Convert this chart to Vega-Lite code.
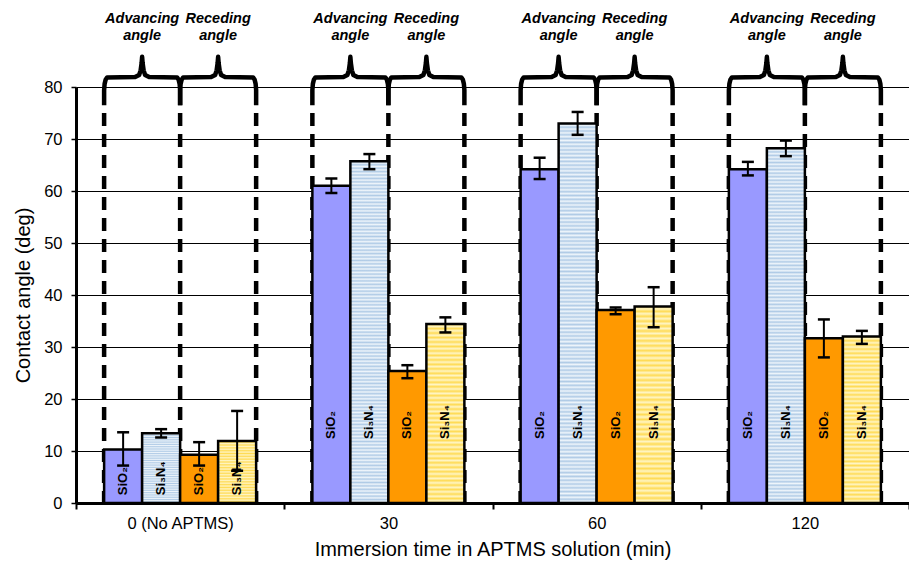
{
  "$schema": "https://vega.github.io/schema/vega-lite/v6.json",
  "width": 833,
  "height": 416,
  "autosize": {"type": "none"},
  "padding": {"left": 76, "top": 87, "right": 0, "bottom": 66},
  "config": {"font": "Liberation Sans", "view": {"stroke": null}},
  "datasets": {
    "bars": [
      {"group": "0 (No APTMS)", "series": "SiO2 adv", "label": "SiO₂", "value": 10.3, "lo": 7.2, "hi": 13.6},
      {"group": "0 (No APTMS)", "series": "Si3N4 adv", "label": "Si₃N₄", "value": 13.4, "lo": 12.6, "hi": 14.2},
      {"group": "0 (No APTMS)", "series": "SiO2 rec", "label": "SiO₂", "value": 9.3, "lo": 7.2, "hi": 11.7},
      {"group": "0 (No APTMS)", "series": "Si3N4 rec", "label": "Si₃N₄", "value": 11.9, "lo": 6.2, "hi": 17.7},
      {"group": "30", "series": "SiO2 adv", "label": "SiO₂", "value": 61.0, "lo": 59.6, "hi": 62.4},
      {"group": "30", "series": "Si3N4 adv", "label": "Si₃N₄", "value": 65.7, "lo": 64.2, "hi": 67.1},
      {"group": "30", "series": "SiO2 rec", "label": "SiO₂", "value": 25.4, "lo": 24.0, "hi": 26.5},
      {"group": "30", "series": "Si3N4 rec", "label": "Si₃N₄", "value": 34.4, "lo": 32.8, "hi": 35.7},
      {"group": "60", "series": "SiO2 adv", "label": "SiO₂", "value": 64.2, "lo": 62.3, "hi": 66.4},
      {"group": "60", "series": "Si3N4 adv", "label": "Si₃N₄", "value": 73.0, "lo": 70.8, "hi": 75.2},
      {"group": "60", "series": "SiO2 rec", "label": "SiO₂", "value": 37.1, "lo": 36.3, "hi": 37.6},
      {"group": "60", "series": "Si3N4 rec", "label": "Si₃N₄", "value": 37.8, "lo": 33.8, "hi": 41.5},
      {"group": "120", "series": "SiO2 adv", "label": "SiO₂", "value": 64.2, "lo": 63.0, "hi": 65.6},
      {"group": "120", "series": "Si3N4 adv", "label": "Si₃N₄", "value": 68.2, "lo": 66.7, "hi": 69.7},
      {"group": "120", "series": "SiO2 rec", "label": "SiO₂", "value": 31.7, "lo": 28.0, "hi": 35.3},
      {"group": "120", "series": "Si3N4 rec", "label": "Si₃N₄", "value": 32.0, "lo": 30.6, "hi": 33.1}
    ],
    "dashes": [
      {"x": 0.135}, {"x": 0.5}, {"x": 0.865},
      {"x": 1.135}, {"x": 1.5}, {"x": 1.865},
      {"x": 2.135}, {"x": 2.5}, {"x": 2.865},
      {"x": 3.135}, {"x": 3.5}, {"x": 3.865}
    ],
    "heads": [
      {"x": 0.3175, "t": "Advancing\nangle"}, {"x": 0.6825, "t": "Receding\nangle"},
      {"x": 1.3175, "t": "Advancing\nangle"}, {"x": 1.6825, "t": "Receding\nangle"},
      {"x": 2.3175, "t": "Advancing\nangle"}, {"x": 2.6825, "t": "Receding\nangle"},
      {"x": 3.3175, "t": "Advancing\nangle"}, {"x": 3.6825, "t": "Receding\nangle"}
    ],
    "braces": [
      {"b":0,"i":0,"x":0.135,"y":76.5},{"b":0,"i":1,"x":0.135,"y":79.4},{"b":0,"i":2,"x":0.1374,"y":80.6},{"b":0,"i":3,"x":0.1422,"y":81.4},{"b":0,"i":4,"x":0.1494,"y":81.85},{"b":0,"i":5,"x":0.2839,"y":81.9},{"b":0,"i":6,"x":0.3031,"y":82.3},{"b":0,"i":7,"x":0.3103,"y":83.2},{"b":0,"i":8,"x":0.3151,"y":84.6},{"b":0,"i":9,"x":0.3175,"y":85.8},{"b":0,"i":10,"x":0.3199,"y":84.6},{"b":0,"i":11,"x":0.3247,"y":83.2},{"b":0,"i":12,"x":0.3319,"y":82.3},{"b":0,"i":13,"x":0.3511,"y":81.9},{"b":0,"i":14,"x":0.4856,"y":81.85},{"b":0,"i":15,"x":0.4928,"y":81.4},{"b":0,"i":16,"x":0.4976,"y":80.6},{"b":0,"i":17,"x":0.5,"y":79.4},{"b":0,"i":18,"x":0.5,"y":76.5},
      {"b":1,"i":0,"x":0.5,"y":76.5},{"b":1,"i":1,"x":0.5,"y":79.4},{"b":1,"i":2,"x":0.5024,"y":80.6},{"b":1,"i":3,"x":0.5072,"y":81.4},{"b":1,"i":4,"x":0.5144,"y":81.85},{"b":1,"i":5,"x":0.6489,"y":81.9},{"b":1,"i":6,"x":0.6681,"y":82.3},{"b":1,"i":7,"x":0.6753,"y":83.2},{"b":1,"i":8,"x":0.6801,"y":84.6},{"b":1,"i":9,"x":0.6825,"y":85.8},{"b":1,"i":10,"x":0.6849,"y":84.6},{"b":1,"i":11,"x":0.6897,"y":83.2},{"b":1,"i":12,"x":0.6969,"y":82.3},{"b":1,"i":13,"x":0.7161,"y":81.9},{"b":1,"i":14,"x":0.8506,"y":81.85},{"b":1,"i":15,"x":0.8578,"y":81.4},{"b":1,"i":16,"x":0.8626,"y":80.6},{"b":1,"i":17,"x":0.865,"y":79.4},{"b":1,"i":18,"x":0.865,"y":76.5},
      {"b":2,"i":0,"x":1.135,"y":76.5},{"b":2,"i":1,"x":1.135,"y":79.4},{"b":2,"i":2,"x":1.1374,"y":80.6},{"b":2,"i":3,"x":1.1422,"y":81.4},{"b":2,"i":4,"x":1.1494,"y":81.85},{"b":2,"i":5,"x":1.2839,"y":81.9},{"b":2,"i":6,"x":1.3031,"y":82.3},{"b":2,"i":7,"x":1.3103,"y":83.2},{"b":2,"i":8,"x":1.3151,"y":84.6},{"b":2,"i":9,"x":1.3175,"y":85.8},{"b":2,"i":10,"x":1.3199,"y":84.6},{"b":2,"i":11,"x":1.3247,"y":83.2},{"b":2,"i":12,"x":1.3319,"y":82.3},{"b":2,"i":13,"x":1.3511,"y":81.9},{"b":2,"i":14,"x":1.4856,"y":81.85},{"b":2,"i":15,"x":1.4928,"y":81.4},{"b":2,"i":16,"x":1.4976,"y":80.6},{"b":2,"i":17,"x":1.5,"y":79.4},{"b":2,"i":18,"x":1.5,"y":76.5},
      {"b":3,"i":0,"x":1.5,"y":76.5},{"b":3,"i":1,"x":1.5,"y":79.4},{"b":3,"i":2,"x":1.5024,"y":80.6},{"b":3,"i":3,"x":1.5072,"y":81.4},{"b":3,"i":4,"x":1.5144,"y":81.85},{"b":3,"i":5,"x":1.6489,"y":81.9},{"b":3,"i":6,"x":1.6681,"y":82.3},{"b":3,"i":7,"x":1.6753,"y":83.2},{"b":3,"i":8,"x":1.6801,"y":84.6},{"b":3,"i":9,"x":1.6825,"y":85.8},{"b":3,"i":10,"x":1.6849,"y":84.6},{"b":3,"i":11,"x":1.6897,"y":83.2},{"b":3,"i":12,"x":1.6969,"y":82.3},{"b":3,"i":13,"x":1.7161,"y":81.9},{"b":3,"i":14,"x":1.8506,"y":81.85},{"b":3,"i":15,"x":1.8578,"y":81.4},{"b":3,"i":16,"x":1.8626,"y":80.6},{"b":3,"i":17,"x":1.865,"y":79.4},{"b":3,"i":18,"x":1.865,"y":76.5},
      {"b":4,"i":0,"x":2.135,"y":76.5},{"b":4,"i":1,"x":2.135,"y":79.4},{"b":4,"i":2,"x":2.1374,"y":80.6},{"b":4,"i":3,"x":2.1422,"y":81.4},{"b":4,"i":4,"x":2.1494,"y":81.85},{"b":4,"i":5,"x":2.2839,"y":81.9},{"b":4,"i":6,"x":2.3031,"y":82.3},{"b":4,"i":7,"x":2.3103,"y":83.2},{"b":4,"i":8,"x":2.3151,"y":84.6},{"b":4,"i":9,"x":2.3175,"y":85.8},{"b":4,"i":10,"x":2.3199,"y":84.6},{"b":4,"i":11,"x":2.3247,"y":83.2},{"b":4,"i":12,"x":2.3319,"y":82.3},{"b":4,"i":13,"x":2.3511,"y":81.9},{"b":4,"i":14,"x":2.4856,"y":81.85},{"b":4,"i":15,"x":2.4928,"y":81.4},{"b":4,"i":16,"x":2.4976,"y":80.6},{"b":4,"i":17,"x":2.5,"y":79.4},{"b":4,"i":18,"x":2.5,"y":76.5},
      {"b":5,"i":0,"x":2.5,"y":76.5},{"b":5,"i":1,"x":2.5,"y":79.4},{"b":5,"i":2,"x":2.5024,"y":80.6},{"b":5,"i":3,"x":2.5072,"y":81.4},{"b":5,"i":4,"x":2.5144,"y":81.85},{"b":5,"i":5,"x":2.6489,"y":81.9},{"b":5,"i":6,"x":2.6681,"y":82.3},{"b":5,"i":7,"x":2.6753,"y":83.2},{"b":5,"i":8,"x":2.6801,"y":84.6},{"b":5,"i":9,"x":2.6825,"y":85.8},{"b":5,"i":10,"x":2.6849,"y":84.6},{"b":5,"i":11,"x":2.6897,"y":83.2},{"b":5,"i":12,"x":2.6969,"y":82.3},{"b":5,"i":13,"x":2.7161,"y":81.9},{"b":5,"i":14,"x":2.8506,"y":81.85},{"b":5,"i":15,"x":2.8578,"y":81.4},{"b":5,"i":16,"x":2.8626,"y":80.6},{"b":5,"i":17,"x":2.865,"y":79.4},{"b":5,"i":18,"x":2.865,"y":76.5},
      {"b":6,"i":0,"x":3.135,"y":76.5},{"b":6,"i":1,"x":3.135,"y":79.4},{"b":6,"i":2,"x":3.1374,"y":80.6},{"b":6,"i":3,"x":3.1422,"y":81.4},{"b":6,"i":4,"x":3.1494,"y":81.85},{"b":6,"i":5,"x":3.2839,"y":81.9},{"b":6,"i":6,"x":3.3031,"y":82.3},{"b":6,"i":7,"x":3.3103,"y":83.2},{"b":6,"i":8,"x":3.3151,"y":84.6},{"b":6,"i":9,"x":3.3175,"y":85.8},{"b":6,"i":10,"x":3.3199,"y":84.6},{"b":6,"i":11,"x":3.3247,"y":83.2},{"b":6,"i":12,"x":3.3319,"y":82.3},{"b":6,"i":13,"x":3.3511,"y":81.9},{"b":6,"i":14,"x":3.4856,"y":81.85},{"b":6,"i":15,"x":3.4928,"y":81.4},{"b":6,"i":16,"x":3.4976,"y":80.6},{"b":6,"i":17,"x":3.5,"y":79.4},{"b":6,"i":18,"x":3.5,"y":76.5},
      {"b":7,"i":0,"x":3.5,"y":76.5},{"b":7,"i":1,"x":3.5,"y":79.4},{"b":7,"i":2,"x":3.5024,"y":80.6},{"b":7,"i":3,"x":3.5072,"y":81.4},{"b":7,"i":4,"x":3.5144,"y":81.85},{"b":7,"i":5,"x":3.6489,"y":81.9},{"b":7,"i":6,"x":3.6681,"y":82.3},{"b":7,"i":7,"x":3.6753,"y":83.2},{"b":7,"i":8,"x":3.6801,"y":84.6},{"b":7,"i":9,"x":3.6825,"y":85.8},{"b":7,"i":10,"x":3.6849,"y":84.6},{"b":7,"i":11,"x":3.6897,"y":83.2},{"b":7,"i":12,"x":3.6969,"y":82.3},{"b":7,"i":13,"x":3.7161,"y":81.9},{"b":7,"i":14,"x":3.8506,"y":81.85},{"b":7,"i":15,"x":3.8578,"y":81.4},{"b":7,"i":16,"x":3.8626,"y":80.6},{"b":7,"i":17,"x":3.865,"y":79.4},{"b":7,"i":18,"x":3.865,"y":76.5}
    ]
  },
  "resolve": {"scale": {"x": "independent"}},
  "layer": [
    {
      "data": {"name": "dashes"},
      "mark": {"type": "rule", "strokeDash": [13, 8], "strokeWidth": 4.5, "color": "black"},
      "encoding": {
        "x": {"field": "x", "type": "quantitative", "scale": {"domain": [0, 4], "nice": false, "zero": false}, "axis": null},
        "y": {"datum": 75, "type": "quantitative", "scale": {"domain": [0, 80], "nice": false}},
        "y2": {"datum": 0}
      }
    },
    {
      "data": {"name": "bars"},
      "encoding": {
        "x": {
          "field": "group", "type": "nominal",
          "scale": {"domain": ["0 (No APTMS)", "30", "60", "120"], "paddingInner": 0, "paddingOuter": 0},
          "axis": {
            "title": "Immersion time in APTMS solution (min)", "labelAngle": 0, "tickBand": "extent",
            "domainColor": "black", "domainWidth": 3, "tickColor": "black", "tickWidth": 2, "tickSize": 6,
            "labelFontSize": 16.5, "labelColor": "black", "labelPadding": 6,
            "titleFontSize": 20, "titleFontWeight": "normal", "titleColor": "black", "titlePadding": 8, "grid": false
          }
        },
        "xOffset": {
          "field": "series", "type": "nominal",
          "scale": {"domain": ["SiO2 adv", "Si3N4 adv", "SiO2 rec", "Si3N4 rec"], "paddingInner": 0, "paddingOuter": 0.74}
        }
      },
      "layer": [
        {
          "mark": {"type": "bar", "stroke": "black", "strokeWidth": 2.5},
          "encoding": {
            "y": {
              "field": "value", "type": "quantitative", "scale": {"domain": [0, 80], "nice": false},
              "axis": {
                "values": [0, 10, 20, 30, 40, 50, 60, 70, 80], "title": "Contact angle (deg)",
                "grid": true, "gridColor": "black", "gridWidth": 1, "gridOpacity": 1,
                "domainColor": "black", "domainWidth": 3, "tickColor": "black", "tickWidth": 1.5, "tickSize": 5,
                "labelFontSize": 16.5, "labelColor": "black", "labelPadding": 9,
                "titleFontSize": 20, "titleFontWeight": "normal", "titleColor": "black", "titlePadding": 10
              }
            },
            "fill": {
              "condition": [
                {"test": "datum.series === 'SiO2 adv'", "value": "#9999ff"},
                {"test": "datum.series === 'SiO2 rec'", "value": "#ff9900"},
                {"test": "datum.series === 'Si3N4 adv'", "value": {"gradient": "linear", "x1": 0, "y1": 0, "x2": 0, "y2": 1, "stops": [
{"offset":0,"color":"#b0cbe6"},{"offset":0.005,"color":"#eef5fb"},{"offset":0.01,"color":"#b0cbe6"},{"offset":0.015,"color":"#eef5fb"},{"offset":0.02,"color":"#b0cbe6"},{"offset":0.025,"color":"#eef5fb"},{"offset":0.03,"color":"#b0cbe6"},{"offset":0.035,"color":"#eef5fb"},{"offset":0.04,"color":"#b0cbe6"},{"offset":0.045,"color":"#eef5fb"},
{"offset":0.05,"color":"#b0cbe6"},{"offset":0.055,"color":"#eef5fb"},{"offset":0.06,"color":"#b0cbe6"},{"offset":0.065,"color":"#eef5fb"},{"offset":0.07,"color":"#b0cbe6"},{"offset":0.075,"color":"#eef5fb"},{"offset":0.08,"color":"#b0cbe6"},{"offset":0.085,"color":"#eef5fb"},{"offset":0.09,"color":"#b0cbe6"},{"offset":0.095,"color":"#eef5fb"},
{"offset":0.1,"color":"#b0cbe6"},{"offset":0.105,"color":"#eef5fb"},{"offset":0.11,"color":"#b0cbe6"},{"offset":0.115,"color":"#eef5fb"},{"offset":0.12,"color":"#b0cbe6"},{"offset":0.125,"color":"#eef5fb"},{"offset":0.13,"color":"#b0cbe6"},{"offset":0.135,"color":"#eef5fb"},{"offset":0.14,"color":"#b0cbe6"},{"offset":0.145,"color":"#eef5fb"},
{"offset":0.15,"color":"#b0cbe6"},{"offset":0.155,"color":"#eef5fb"},{"offset":0.16,"color":"#b0cbe6"},{"offset":0.165,"color":"#eef5fb"},{"offset":0.17,"color":"#b0cbe6"},{"offset":0.175,"color":"#eef5fb"},{"offset":0.18,"color":"#b0cbe6"},{"offset":0.185,"color":"#eef5fb"},{"offset":0.19,"color":"#b0cbe6"},{"offset":0.195,"color":"#eef5fb"},
{"offset":0.2,"color":"#b0cbe6"},{"offset":0.205,"color":"#eef5fb"},{"offset":0.21,"color":"#b0cbe6"},{"offset":0.215,"color":"#eef5fb"},{"offset":0.22,"color":"#b0cbe6"},{"offset":0.225,"color":"#eef5fb"},{"offset":0.23,"color":"#b0cbe6"},{"offset":0.235,"color":"#eef5fb"},{"offset":0.24,"color":"#b0cbe6"},{"offset":0.245,"color":"#eef5fb"},
{"offset":0.25,"color":"#b0cbe6"},{"offset":0.255,"color":"#eef5fb"},{"offset":0.26,"color":"#b0cbe6"},{"offset":0.265,"color":"#eef5fb"},{"offset":0.27,"color":"#b0cbe6"},{"offset":0.275,"color":"#eef5fb"},{"offset":0.28,"color":"#b0cbe6"},{"offset":0.285,"color":"#eef5fb"},{"offset":0.29,"color":"#b0cbe6"},{"offset":0.295,"color":"#eef5fb"},
{"offset":0.3,"color":"#b0cbe6"},{"offset":0.305,"color":"#eef5fb"},{"offset":0.31,"color":"#b0cbe6"},{"offset":0.315,"color":"#eef5fb"},{"offset":0.32,"color":"#b0cbe6"},{"offset":0.325,"color":"#eef5fb"},{"offset":0.33,"color":"#b0cbe6"},{"offset":0.335,"color":"#eef5fb"},{"offset":0.34,"color":"#b0cbe6"},{"offset":0.345,"color":"#eef5fb"},
{"offset":0.35,"color":"#b0cbe6"},{"offset":0.355,"color":"#eef5fb"},{"offset":0.36,"color":"#b0cbe6"},{"offset":0.365,"color":"#eef5fb"},{"offset":0.37,"color":"#b0cbe6"},{"offset":0.375,"color":"#eef5fb"},{"offset":0.38,"color":"#b0cbe6"},{"offset":0.385,"color":"#eef5fb"},{"offset":0.39,"color":"#b0cbe6"},{"offset":0.395,"color":"#eef5fb"},
{"offset":0.4,"color":"#b0cbe6"},{"offset":0.405,"color":"#eef5fb"},{"offset":0.41,"color":"#b0cbe6"},{"offset":0.415,"color":"#eef5fb"},{"offset":0.42,"color":"#b0cbe6"},{"offset":0.425,"color":"#eef5fb"},{"offset":0.43,"color":"#b0cbe6"},{"offset":0.435,"color":"#eef5fb"},{"offset":0.44,"color":"#b0cbe6"},{"offset":0.445,"color":"#eef5fb"},
{"offset":0.45,"color":"#b0cbe6"},{"offset":0.455,"color":"#eef5fb"},{"offset":0.46,"color":"#b0cbe6"},{"offset":0.465,"color":"#eef5fb"},{"offset":0.47,"color":"#b0cbe6"},{"offset":0.475,"color":"#eef5fb"},{"offset":0.48,"color":"#b0cbe6"},{"offset":0.485,"color":"#eef5fb"},{"offset":0.49,"color":"#b0cbe6"},{"offset":0.495,"color":"#eef5fb"},
{"offset":0.5,"color":"#b0cbe6"},{"offset":0.505,"color":"#eef5fb"},{"offset":0.51,"color":"#b0cbe6"},{"offset":0.515,"color":"#eef5fb"},{"offset":0.52,"color":"#b0cbe6"},{"offset":0.525,"color":"#eef5fb"},{"offset":0.53,"color":"#b0cbe6"},{"offset":0.535,"color":"#eef5fb"},{"offset":0.54,"color":"#b0cbe6"},{"offset":0.545,"color":"#eef5fb"},
{"offset":0.55,"color":"#b0cbe6"},{"offset":0.555,"color":"#eef5fb"},{"offset":0.56,"color":"#b0cbe6"},{"offset":0.565,"color":"#eef5fb"},{"offset":0.57,"color":"#b0cbe6"},{"offset":0.575,"color":"#eef5fb"},{"offset":0.58,"color":"#b0cbe6"},{"offset":0.585,"color":"#eef5fb"},{"offset":0.59,"color":"#b0cbe6"},{"offset":0.595,"color":"#eef5fb"},
{"offset":0.6,"color":"#b0cbe6"},{"offset":0.605,"color":"#eef5fb"},{"offset":0.61,"color":"#b0cbe6"},{"offset":0.615,"color":"#eef5fb"},{"offset":0.62,"color":"#b0cbe6"},{"offset":0.625,"color":"#eef5fb"},{"offset":0.63,"color":"#b0cbe6"},{"offset":0.635,"color":"#eef5fb"},{"offset":0.64,"color":"#b0cbe6"},{"offset":0.645,"color":"#eef5fb"},
{"offset":0.65,"color":"#b0cbe6"},{"offset":0.655,"color":"#eef5fb"},{"offset":0.66,"color":"#b0cbe6"},{"offset":0.665,"color":"#eef5fb"},{"offset":0.67,"color":"#b0cbe6"},{"offset":0.675,"color":"#eef5fb"},{"offset":0.68,"color":"#b0cbe6"},{"offset":0.685,"color":"#eef5fb"},{"offset":0.69,"color":"#b0cbe6"},{"offset":0.695,"color":"#eef5fb"},
{"offset":0.7,"color":"#b0cbe6"},{"offset":0.705,"color":"#eef5fb"},{"offset":0.71,"color":"#b0cbe6"},{"offset":0.715,"color":"#eef5fb"},{"offset":0.72,"color":"#b0cbe6"},{"offset":0.725,"color":"#eef5fb"},{"offset":0.73,"color":"#b0cbe6"},{"offset":0.735,"color":"#eef5fb"},{"offset":0.74,"color":"#b0cbe6"},{"offset":0.745,"color":"#eef5fb"},
{"offset":0.75,"color":"#b0cbe6"},{"offset":0.755,"color":"#eef5fb"},{"offset":0.76,"color":"#b0cbe6"},{"offset":0.765,"color":"#eef5fb"},{"offset":0.77,"color":"#b0cbe6"},{"offset":0.775,"color":"#eef5fb"},{"offset":0.78,"color":"#b0cbe6"},{"offset":0.785,"color":"#eef5fb"},{"offset":0.79,"color":"#b0cbe6"},{"offset":0.795,"color":"#eef5fb"},
{"offset":0.8,"color":"#b0cbe6"},{"offset":0.805,"color":"#eef5fb"},{"offset":0.81,"color":"#b0cbe6"},{"offset":0.815,"color":"#eef5fb"},{"offset":0.82,"color":"#b0cbe6"},{"offset":0.825,"color":"#eef5fb"},{"offset":0.83,"color":"#b0cbe6"},{"offset":0.835,"color":"#eef5fb"},{"offset":0.84,"color":"#b0cbe6"},{"offset":0.845,"color":"#eef5fb"},
{"offset":0.85,"color":"#b0cbe6"},{"offset":0.855,"color":"#eef5fb"},{"offset":0.86,"color":"#b0cbe6"},{"offset":0.865,"color":"#eef5fb"},{"offset":0.87,"color":"#b0cbe6"},{"offset":0.875,"color":"#eef5fb"},{"offset":0.88,"color":"#b0cbe6"},{"offset":0.885,"color":"#eef5fb"},{"offset":0.89,"color":"#b0cbe6"},{"offset":0.895,"color":"#eef5fb"},
{"offset":0.9,"color":"#b0cbe6"},{"offset":0.905,"color":"#eef5fb"},{"offset":0.91,"color":"#b0cbe6"},{"offset":0.915,"color":"#eef5fb"},{"offset":0.92,"color":"#b0cbe6"},{"offset":0.925,"color":"#eef5fb"},{"offset":0.93,"color":"#b0cbe6"},{"offset":0.935,"color":"#eef5fb"},{"offset":0.94,"color":"#b0cbe6"},{"offset":0.945,"color":"#eef5fb"},
{"offset":0.95,"color":"#b0cbe6"},{"offset":0.955,"color":"#eef5fb"},{"offset":0.96,"color":"#b0cbe6"},{"offset":0.965,"color":"#eef5fb"},{"offset":0.97,"color":"#b0cbe6"},{"offset":0.975,"color":"#eef5fb"},{"offset":0.98,"color":"#b0cbe6"},{"offset":0.985,"color":"#eef5fb"},{"offset":0.99,"color":"#b0cbe6"},{"offset":0.995,"color":"#eef5fb"},
{"offset":1,"color":"#b0cbe6"}
                ]}}
              ],
              "value": {"gradient": "linear", "x1": 0, "y1": 0, "x2": 0, "y2": 1, "stops": [
{"offset":0,"color":"#ffdb55"},{"offset":0.0125,"color":"#fff5c4"},{"offset":0.025,"color":"#ffdb55"},{"offset":0.0375,"color":"#fff5c4"},{"offset":0.05,"color":"#ffdb55"},{"offset":0.0625,"color":"#fff5c4"},{"offset":0.075,"color":"#ffdb55"},{"offset":0.0875,"color":"#fff5c4"},
{"offset":0.1,"color":"#ffdb55"},{"offset":0.1125,"color":"#fff5c4"},{"offset":0.125,"color":"#ffdb55"},{"offset":0.1375,"color":"#fff5c4"},{"offset":0.15,"color":"#ffdb55"},{"offset":0.1625,"color":"#fff5c4"},{"offset":0.175,"color":"#ffdb55"},{"offset":0.1875,"color":"#fff5c4"},
{"offset":0.2,"color":"#ffdb55"},{"offset":0.2125,"color":"#fff5c4"},{"offset":0.225,"color":"#ffdb55"},{"offset":0.2375,"color":"#fff5c4"},{"offset":0.25,"color":"#ffdb55"},{"offset":0.2625,"color":"#fff5c4"},{"offset":0.275,"color":"#ffdb55"},{"offset":0.2875,"color":"#fff5c4"},
{"offset":0.3,"color":"#ffdb55"},{"offset":0.3125,"color":"#fff5c4"},{"offset":0.325,"color":"#ffdb55"},{"offset":0.3375,"color":"#fff5c4"},{"offset":0.35,"color":"#ffdb55"},{"offset":0.3625,"color":"#fff5c4"},{"offset":0.375,"color":"#ffdb55"},{"offset":0.3875,"color":"#fff5c4"},
{"offset":0.4,"color":"#ffdb55"},{"offset":0.4125,"color":"#fff5c4"},{"offset":0.425,"color":"#ffdb55"},{"offset":0.4375,"color":"#fff5c4"},{"offset":0.45,"color":"#ffdb55"},{"offset":0.4625,"color":"#fff5c4"},{"offset":0.475,"color":"#ffdb55"},{"offset":0.4875,"color":"#fff5c4"},
{"offset":0.5,"color":"#ffdb55"},{"offset":0.5125,"color":"#fff5c4"},{"offset":0.525,"color":"#ffdb55"},{"offset":0.5375,"color":"#fff5c4"},{"offset":0.55,"color":"#ffdb55"},{"offset":0.5625,"color":"#fff5c4"},{"offset":0.575,"color":"#ffdb55"},{"offset":0.5875,"color":"#fff5c4"},
{"offset":0.6,"color":"#ffdb55"},{"offset":0.6125,"color":"#fff5c4"},{"offset":0.625,"color":"#ffdb55"},{"offset":0.6375,"color":"#fff5c4"},{"offset":0.65,"color":"#ffdb55"},{"offset":0.6625,"color":"#fff5c4"},{"offset":0.675,"color":"#ffdb55"},{"offset":0.6875,"color":"#fff5c4"},
{"offset":0.7,"color":"#ffdb55"},{"offset":0.7125,"color":"#fff5c4"},{"offset":0.725,"color":"#ffdb55"},{"offset":0.7375,"color":"#fff5c4"},{"offset":0.75,"color":"#ffdb55"},{"offset":0.7625,"color":"#fff5c4"},{"offset":0.775,"color":"#ffdb55"},{"offset":0.7875,"color":"#fff5c4"},
{"offset":0.8,"color":"#ffdb55"},{"offset":0.8125,"color":"#fff5c4"},{"offset":0.825,"color":"#ffdb55"},{"offset":0.8375,"color":"#fff5c4"},{"offset":0.85,"color":"#ffdb55"},{"offset":0.8625,"color":"#fff5c4"},{"offset":0.875,"color":"#ffdb55"},{"offset":0.8875,"color":"#fff5c4"},
{"offset":0.9,"color":"#ffdb55"},{"offset":0.9125,"color":"#fff5c4"},{"offset":0.925,"color":"#ffdb55"},{"offset":0.9375,"color":"#fff5c4"},{"offset":0.95,"color":"#ffdb55"},{"offset":0.9625,"color":"#fff5c4"},{"offset":0.975,"color":"#ffdb55"},{"offset":0.9875,"color":"#fff5c4"},
{"offset":1,"color":"#ffdb55"}
              ]}
            }
          }
        },
        {
          "mark": {"type": "rule", "strokeWidth": 2, "color": "black"},
          "encoding": {
            "y": {"field": "lo", "type": "quantitative", "scale": {"domain": [0, 80], "nice": false}},
            "y2": {"field": "hi"}
          }
        },
        {
          "mark": {"type": "tick", "thickness": 2.5, "size": 12, "color": "black", "opacity": 1},
          "encoding": {
            "y": {"field": "lo", "type": "quantitative", "scale": {"domain": [0, 80], "nice": false}}
          }
        },
        {
          "mark": {"type": "tick", "thickness": 2.5, "size": 12, "color": "black", "opacity": 1},
          "encoding": {
            "y": {"field": "hi", "type": "quantitative", "scale": {"domain": [0, 80], "nice": false}}
          }
        },
        {
          "transform": [{"filter": "datum.group === '0 (No APTMS)'"}],
          "mark": {"type": "text", "angle": 270, "align": "left", "baseline": "middle", "fontWeight": "bold", "fontSize": 13, "color": "black"},
          "encoding": {
            "y": {"datum": 1.5, "type": "quantitative", "scale": {"domain": [0, 80], "nice": false}},
            "text": {"field": "label"}
          }
        },
        {
          "transform": [{"filter": "datum.group !== '0 (No APTMS)'"}],
          "mark": {"type": "text", "angle": 270, "align": "left", "baseline": "middle", "fontWeight": "bold", "fontSize": 13, "color": "black"},
          "encoding": {
            "y": {"datum": 12.3, "type": "quantitative", "scale": {"domain": [0, 80], "nice": false}},
            "text": {"field": "label"}
          }
        }
      ]
    },
    {
      "data": {"name": "braces"},
      "mark": {"type": "line", "strokeWidth": 4.5, "color": "black", "strokeJoin": "round", "strokeCap": "butt"},
      "encoding": {
        "x": {"field": "x", "type": "quantitative", "scale": {"domain": [0, 4], "nice": false, "zero": false}, "axis": null},
        "y": {"field": "y", "type": "quantitative", "scale": {"domain": [0, 80], "nice": false}},
        "detail": {"field": "b"},
        "order": {"field": "i"}
      }
    },
    {
      "data": {"name": "heads"},
      "mark": {"type": "text", "fontSize": 14.5, "fontWeight": "bold", "fontStyle": "italic", "lineBreak": "\n", "lineHeight": 17, "baseline": "alphabetic", "align": "center", "color": "black"},
      "encoding": {
        "x": {"field": "x", "type": "quantitative", "scale": {"domain": [0, 4], "nice": false, "zero": false}, "axis": null},
        "y": {"datum": 92.3, "type": "quantitative", "scale": {"domain": [0, 80], "nice": false}},
        "text": {"field": "t"}
      }
    }
  ]
}
